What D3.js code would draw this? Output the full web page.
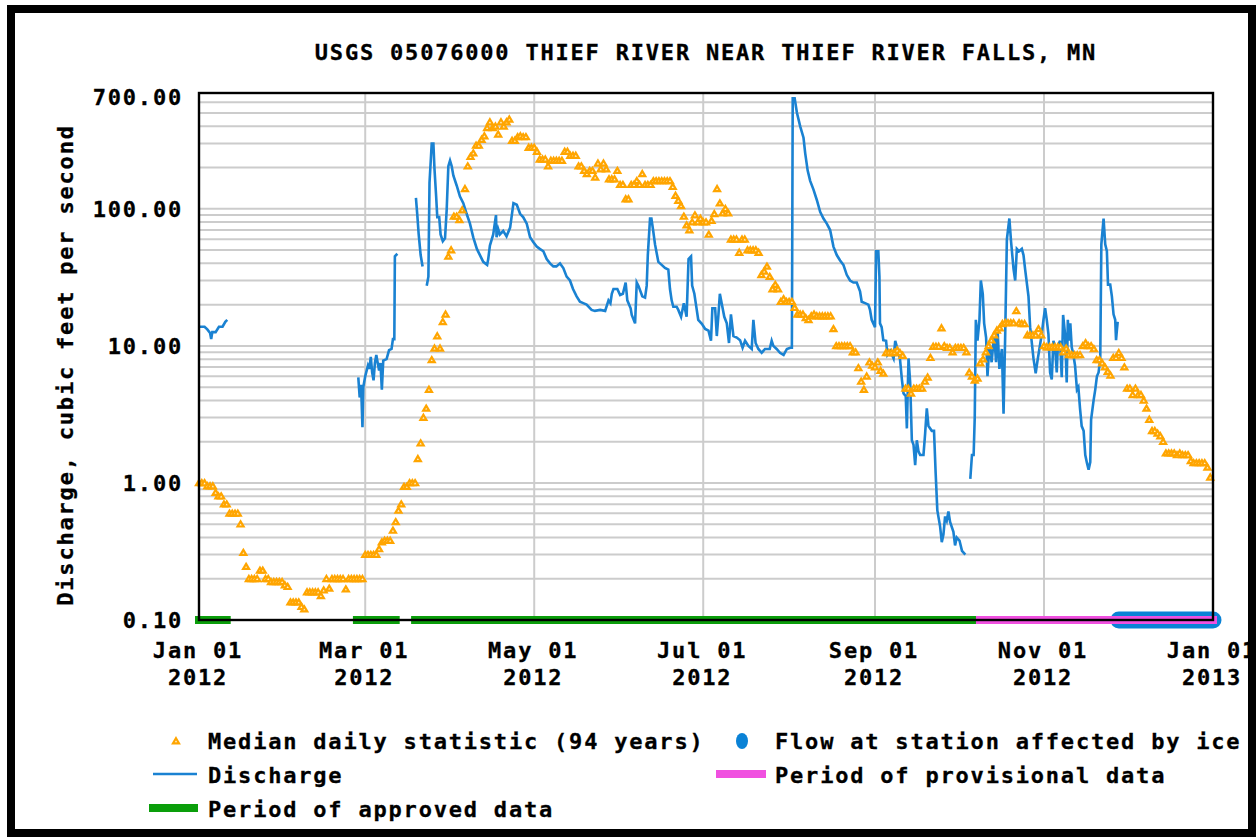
<!DOCTYPE html>
<html lang="en">
<head>
<meta charset="UTF-8">
<title>USGS 05076000 Thief River near Thief River Falls, MN</title>
<script src="https://d3js.org/d3.v7.min.js"></script>
<style>
  body { margin: 0; background: #fff; }
  svg { display: block; }
  text { font-family: "DejaVu Sans Mono", monospace; font-weight: bold; font-size: 22px; letter-spacing: 1.8px; fill: #000; stroke: #000; stroke-width: 0.3px; }
</style>
</head>
<body>
<svg width="1258" height="839"></svg>
<script>
// Median daily statistic (94 years), one value per day of 2012 (cfs)
const medianDaily = [
  1.0, 1.0, 1.0, 0.95, 0.95, 0.95, 0.85, 0.8, 0.8, 0.7,
  0.7, 0.6, 0.6, 0.6, 0.6, 0.5, 0.31, 0.245, 0.2, 0.2,
  0.2, 0.2, 0.23, 0.23, 0.2, 0.2, 0.19, 0.19, 0.19, 0.19,
  0.19, 0.18, 0.175, 0.135, 0.135, 0.135, 0.135, 0.125, 0.12, 0.16,
  0.16, 0.16, 0.16, 0.16, 0.15, 0.165, 0.2, 0.17, 0.2, 0.2,
  0.2, 0.2, 0.2, 0.168, 0.2, 0.2, 0.2, 0.2, 0.2, 0.2,
  0.3, 0.3, 0.3, 0.3, 0.3, 0.33, 0.37, 0.38, 0.38, 0.38,
  0.45, 0.52, 0.63, 0.7, 0.94, 0.94, 1.0, 1.0, 1.0, 1.5,
  1.95, 3.0, 3.5, 4.8, 7.9, 9.6, 11.8, 9.6, 15, 17,
  45, 50, 88, 88, 83, 98, 140, 205, 240, 255,
  290, 290, 320, 340, 390, 430, 390, 400, 350, 430,
  400, 430, 450, 315, 315, 335, 340, 335, 335, 280,
  280, 280, 262, 230, 230, 230, 205, 225, 225, 225,
  225, 225, 262, 262, 245, 245, 245, 205, 205, 190,
  180, 190, 190, 170, 215, 195, 215, 195, 165, 165,
  165, 190, 150, 150, 118, 118, 150, 150, 160, 150,
  180, 150, 150, 150, 160, 160, 160, 160, 160, 160,
  160, 145, 125, 115, 105, 88, 76, 70, 80, 90,
  80, 85, 80, 80, 65, 82, 92, 140, 110, 93,
  100, 93, 60, 60, 60, 48, 60, 60, 50, 50,
  50, 50, 48, 33, 35, 38, 32, 26, 28, 26,
  21, 22, 21, 21, 21, 19, 17, 17, 17, 16,
  15.5, 16.5, 17, 16.5, 16.5, 16.5, 16.5, 16.5, 16.5, 13.3,
  10, 10, 10, 10, 10, 10, 9, 9, 6.9, 5.5,
  4.8, 6, 7.6, 7.2, 7.0, 7.6, 6.6, 6.3, 8.9, 8.9,
  8.9, 8.9, 9.3, 8.9, 8.5, 4.9, 4.9, 4.5, 4.9, 4.9,
  4.9, 4.9, 5.5, 5.9, 8.2, 9.9, 9.9, 9.9, 13.5, 10,
  9.7, 9.7, 9, 9.7, 9.7, 9.7, 9.7, 9, 6.4, 6,
  5.6, 5.8, 7.5, 8, 9, 10, 11, 12, 13, 13.5,
  14.5, 14.7, 14.7, 14.7, 14.7, 18, 14.7, 14.5, 14.5, 12,
  12, 12, 12, 13.3, 12, 10, 9.8, 9.8, 9.8, 9.8,
  9.8, 9.8, 9, 9.6, 8.6, 8.6, 8.6, 8.6, 8.6, 10,
  10.5, 10, 10, 9.5, 7.9, 7.9, 7.5, 7, 6.5, 6.1,
  8.2, 8.2, 8.9, 8.2, 7, 4.9, 4.9, 4.4, 4.9, 4.4,
  4.4, 4.0, 3.5, 2.9, 2.4, 2.4, 2.3, 2.2, 2.0, 1.65,
  1.65, 1.65, 1.65, 1.6, 1.65, 1.6, 1.6, 1.6, 1.45, 1.4,
  1.4, 1.4, 1.4, 1.4, 1.3, 1.1
];

// Discharge, [day of 2012, cfs], one array per unbroken stretch of record
const flowJan = [[0,13.8],[1,13.8],[2,13.8],[3,13.2],[4,12.4],[4.4,11.2],[4.8,12.6],[6,12.6],[7.2,13.8],[8.5,13.8],[9.5,15],[10.2,15.5]];
const flowMar = [[57.5,5.9],[58,4.2],[58.5,5.2],[59,2.55],[59.3,5],[60,6],[61,7.2],[61.5,6.8],[62,8.3],[62.5,6.4],[63,5.6],[63.5,7.5],
  [64,8.6],[65,6.6],[65.5,7.5],[66,4.8],[66.5,7.8],[67.7,8],[68.6,9.3],[69.5,9.5],[70,11.2],[70.5,11.2],[70.7,45],[71.6,47]];
const flowMarLate = [[78.3,120],[78.8,90],[79.3,65],[80,46],[80.7,38]];
const flowMain = [[82.2,27.5],[82.8,32],[83.2,155],[84,300],[84.6,300],[85,195],[85.6,123],[86,87],[86.7,87],[87.2,65],[88,58],[88.8,61],
  [89.4,98],[90,205],[90.6,225],[91.2,205],[91.8,175],[93,148],[94.2,123],[95.4,110],[96.6,92],[97.8,78],[99,62],[100.3,51],[101.4,46],
  [102.6,41],[104,39],[104.4,43],[105,54],[106.2,65],[107.2,90],[107.4,62],[108,71],[108.6,65],[109.8,69],[111,63],[112.3,73],[113.5,110],
  [114.7,107],[115.9,92],[117,87],[118.3,78],[119.5,62],[120.7,57],[121.9,53],[123,51],[124.3,49],[125.5,43],[126.7,40],[127.9,38],[129,38],
  [130.3,40],[131.5,37],[132.7,32],[133.9,30],[135,26],[136.3,23],[137.5,21],[138.7,20.5],[139.9,20],[141.7,18.3],[142.9,18],[144.8,18.3],
  [146.6,18],[147.8,21.5],[148.5,20.5],[149,24],[149.6,26],[151,26],[152,23.5],[153,24],[154,29],[154.6,21.5],[155.8,18.8],[156.2,16.8],
  [157.4,14.6],[158,29],[158.6,27.5],[160,23],[161,22.5],[161.6,27.5],[162,46],[162.8,85],[163.3,85],[163.9,70],[164.6,55],[165.8,41],
  [167,39],[168.2,37],[169.4,36],[170,26],[170.6,21.5],[171.2,19.3],[172.4,19.3],[173,18.3],[174,16.3],[175,20.5],[176,16.3],[176.7,43],
  [177.6,45],[178,27.5],[178.8,24],[179.3,20.5],[180.2,15.5],[181.5,14.5],[182.7,13.3],[183.9,12.9],[184.8,10.9],[185.3,18.8],[186.3,18.8],
  [186.9,11.8],[187.5,17],[188,24],[188.9,19.3],[189.6,16.3],[190.5,14.6],[191.3,10.5],[192,17],[192.9,11.8],[194.1,11.5],[195.3,11],
  [196.2,9.7],[197.1,10.9],[198.3,10],[199.5,9.5],[200.1,15.5],[200.9,10.5],[201.9,9.5],[203.1,8.9],[204.3,9.5],[206,9.5],[206.7,10.9],
  [207.3,10],[208.5,9.5],[209.7,8.9],[211,8.6],[212.2,9.5],[213.4,9.7],[214,9.7],[214.3,640],[215,640],[215.8,505],[217,400],[218.2,330],
  [218.8,255],[219.7,190],[220.6,160],[221.8,138],[223,116],[224.2,95],[225.4,85],[226.6,78],[227.8,70],[229,53],[230.2,46],[231.4,42],
  [232.6,39],[233.8,33],[235,30],[236.2,29],[237.4,29],[238.6,25],[239.2,21],[240.4,20.5],[241.6,20],[242.2,18.3],[242.8,15.5],[244,13.7],
  [244.4,49],[245.2,49],[245.6,32],[245.8,14.6],[246.4,13.7],[247,11],[248,10.9],[248.5,8.6],[249.5,9.2],[250.7,8.1],[251.3,10.9],[252.1,9.5],
  [253,8.1],[253.7,5.7],[254.3,4.5],[255.1,4.3],[255.5,2.5],[256.1,8.1],[256.7,5.4],[257.3,2.05],[257.9,1.9],[258.5,1.35],[259.1,2.05],
  [259.7,1.7],[260.3,1.6],[261.5,1.6],[262.1,2.3],[262.7,3.5],[263.3,2.6],[264.5,2.4],[265.3,2.4],[265.9,1.17],[266.5,0.63],[267.5,0.48],
  [268.1,0.37],[268.7,0.42],[269.3,0.57],[269.9,0.53],[270.5,0.62],[271.1,0.52],[272.3,0.44],[272.9,0.35],[273.5,0.4],[274.5,0.38],
  [275.4,0.32],[276.6,0.3]];
const flowFall = [[278.4,1.07],[279,1.6],[279.6,1.6],[280,3],[280.4,15.5],[281,10.9],[281.7,15.5],[282.2,30],[282.9,24],[283.4,14.6],
  [284.1,11.5],[284.6,6],[285.3,10.2],[286.1,7.6],[287,12.2],[287.7,7.6],[288.2,13.7],[288.9,6.8],[289.8,9.5],[290.4,3.2],[291,12.2],
  [291.6,60],[292.5,85],[293.1,58],[294,36.5],[294.6,30],[295.2,51],[296,49],[297,51],[297.6,46],[298.2,36],[299.4,23],[300,13.7],
  [301.2,8.1],[302,6.3],[302.7,7.9],[304.2,12.2],[304.8,15.5],[305.4,18.8],[306,15.5],[306.6,12.2],[307.2,6.4],[307.8,5.7],[308.4,10.9],
  [309,9.8],[309.6,6.4],[310,10],[310.8,10.9],[311.4,5.9],[311.9,16.8],[312.6,12.2],[313.2,5.4],[313.6,15.5],[314,10.9],[314.5,14.6],
  [315,9.8],[315.6,8.6],[316.2,7.2],[316.9,4.8],[317.4,5],[318,3.5],[318.6,2.6],[319.3,2.4],[319.9,1.6],[320.5,1.4],[321.1,1.25],
  [321.7,1.42],[322,2.9],[322.9,4],[323.5,4.8],[324.1,6],[324.7,6.4],[325.3,8],[325.7,55],[326.5,85],[327.1,55],[327.7,49],[328.1,28],
  [328.9,28],[329.5,23],[330.1,17],[330.7,15.5],[331,11],[331.3,13],[331.6,15]];
const flowSegments = [flowJan, flowMar, flowMarLate, flowMain, flowFall];

// Data-quality periods along the bottom axis
const approvedPeriods = [["2012-01-01", "2012-01-11"], ["2012-02-27", "2012-03-12"], ["2012-03-19", "2012-10-06"]];
const provisionalPeriods = [["2012-10-07", "2013-01-01"]];
const icePeriods = [["2012-11-28", "2013-01-01"]];

const yLabelTicks = [0.1, 1, 10, 100, 700];
const titleText = "USGS 05076000 THIEF RIVER NEAR THIEF RIVER FALLS, MN";
const yTitle = "Discharge, cubic feet per second";

const C = { median: "#ffa500", flow: "#1a82d2", approved: "#0a9e0a", provisional: "#f050e0", ice: "#0a82d6", grid: "#cccccc" };

const svg = d3.select("svg");
const plotL = 199, plotR = 1213, plotT = 93, plotB = 620;

const parse = d3.timeParse("%Y-%m-%d");
const t0 = new Date(2012, 0, 1);
const dayDate = d => new Date(+t0 + d * 864e5);

const x = d3.scaleTime().domain([t0, new Date(2013, 0, 1)]).range([plotL, plotR]);
const y = d3.scaleLog().domain([0.1, 700]).range([plotB, plotT]);

// outer frame
svg.append("rect").attr("x", 11).attr("y", 9).attr("width", 1241).attr("height", 824)
  .attr("fill", "#fff").attr("stroke", "#000").attr("stroke-width", 8);

// grid
const g = svg.append("g");
g.selectAll(".hg").data(y.ticks().filter(v => v < 700)).enter().append("line")
  .attr("x1", plotL).attr("x2", plotR).attr("y1", d => y(d)).attr("y2", d => y(d))
  .attr("stroke", C.grid).attr("stroke-width", 2);
const monthTicks = x.ticks(d3.timeMonth.every(2));
g.selectAll(".vg").data(monthTicks).enter().append("line")
  .attr("x1", d => x(d)).attr("x2", d => x(d)).attr("y1", plotT).attr("y2", plotB)
  .attr("stroke", C.grid).attr("stroke-width", 2);

// period bars
const bar = (periods, color, w, cap) => svg.append("g").selectAll("line").data(periods).enter().append("line")
  .attr("x1", d => x(parse(d[0]))).attr("x2", d => x(parse(d[1])))
  .attr("y1", plotB).attr("y2", plotB)
  .attr("stroke", color).attr("stroke-width", w).attr("stroke-linecap", cap);
bar(icePeriods, C.ice, 17, "round");
bar(provisionalPeriods, C.provisional, 8, "square");
bar(approvedPeriods, C.approved, 8, "square");

// discharge
const line = d3.line().x(d => x(dayDate(d[0]))).y(d => y(d[1]));
svg.append("g").selectAll("path").data(flowSegments).enter().append("path")
  .attr("d", line).attr("fill", "none").attr("stroke", C.flow).attr("stroke-width", 2.6);

// median markers
const tri = "M0,-2.8L3,2.3L-3,2.3Z";
svg.append("g").selectAll("path").data(medianDaily).enter().append("path")
  .attr("d", tri)
  .attr("transform", (v, i) => `translate(${x(dayDate(i))},${y(v)})`)
  .attr("fill", "#fff3d6").attr("stroke", C.median).attr("stroke-width", 2.2);

// plot border
svg.append("rect").attr("x", plotL).attr("y", plotT).attr("width", plotR - plotL).attr("height", plotB - plotT)
  .attr("fill", "none").attr("stroke", "#000").attr("stroke-width", 2.4);

// y tick labels
svg.append("g").selectAll("text").data(yLabelTicks).enter().append("text")
  .attr("x", 183).attr("y", d => Math.max(y(d), 97) + 8).attr("text-anchor", "end")
  .text(d3.format(".2f"));

// x tick labels
const xl = svg.append("g").selectAll("text").data(monthTicks).enter().append("text")
  .attr("text-anchor", "middle");
xl.append("tspan").attr("x", d => x(d) - 1).attr("y", 658).text(d3.timeFormat("%b %d"));
xl.append("tspan").attr("x", d => x(d) - 1).attr("y", 685).text(d3.timeFormat("%Y"));

// titles
svg.append("text").attr("x", 706).attr("y", 60).attr("text-anchor", "middle").text(titleText);
svg.append("text").attr("transform", "translate(73,365) rotate(-90)").attr("text-anchor", "middle").text(yTitle);

// legend
const lg = svg.append("g");
lg.append("path").attr("d", tri).attr("transform", "translate(176,741)")
  .attr("fill", "#fff3d6").attr("stroke", C.median).attr("stroke-width", 2.2);
lg.append("text").attr("x", 208).attr("y", 749).text("Median daily statistic (94 years)");
lg.append("ellipse").attr("cx", 742).attr("cy", 741).attr("rx", 6).attr("ry", 8).attr("fill", C.ice);
lg.append("text").attr("x", 775).attr("y", 749).text("Flow at station affected by ice");
lg.append("line").attr("x1", 153).attr("x2", 197).attr("y1", 774).attr("y2", 774)
  .attr("stroke", C.flow).attr("stroke-width", 2.6);
lg.append("text").attr("x", 208).attr("y", 783).text("Discharge");
lg.append("rect").attr("x", 716).attr("y", 770).attr("width", 50).attr("height", 8).attr("fill", C.provisional);
lg.append("text").attr("x", 775).attr("y", 783).text("Period of provisional data");
lg.append("rect").attr("x", 149).attr("y", 804).attr("width", 49).attr("height", 8).attr("fill", C.approved);
lg.append("text").attr("x", 208).attr("y", 817).text("Period of approved data");
</script>
</body>
</html>
